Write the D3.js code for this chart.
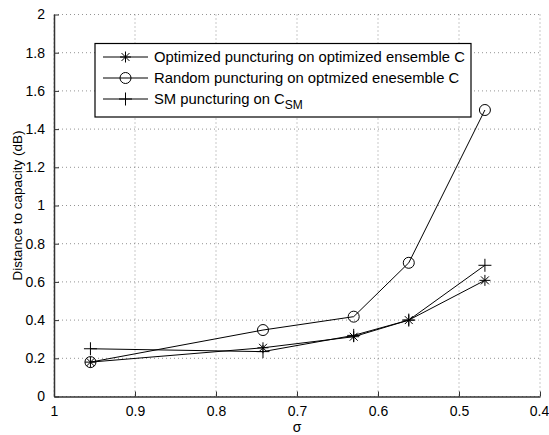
<!DOCTYPE html>
<html><head><meta charset="utf-8">
<script src="https://cdn.jsdelivr.net/npm/d3@7"></script>
<style>body{margin:0;background:#fff}svg{display:block}text{font-family:"Liberation Sans",Arial,sans-serif}</style>
</head><body><svg id="c" width="549" height="435"></svg>
<script>
const sigma = [0.955, 0.742, 0.63, 0.562, 0.468];
const optimized = [0.18, 0.255, 0.313, 0.40, 0.608];
const random = [0.18, 0.348, 0.418, 0.70, 1.50];
const smPunct = [0.25, 0.235, 0.32, 0.40, 0.687];
const xTicks = [1, 0.9, 0.8, 0.7, 0.6, 0.5, 0.4];
const yTicks = [0, 0.2, 0.4, 0.6, 0.8, 1, 1.2, 1.4, 1.6, 1.8, 2];
const legendLabels = ["Optimized puncturing on optimized ensemble C", "Random puncturing on optmized enesemble C", "SM puncturing on C"];

const svg = d3.select("#c");
const L = 54, R = 540, T = 14.5, B = 396.5;
const x = d3.scaleLinear().domain([1, 0.4]).range([L, R]);
const y = d3.scaleLinear().domain([0, 2]).range([B, T]);

// grid
const g = svg.append("g");
g.selectAll(".gx").data(xTicks).enter().append("line")
  .attr("x1", d => x(d)).attr("x2", d => x(d)).attr("y1", T).attr("y2", B)
  .attr("stroke", "#666").attr("stroke-width", 0.7).attr("stroke-dasharray", "1,3");
g.selectAll(".gy").data(yTicks).enter().append("line")
  .attr("x1", L).attr("x2", R).attr("y1", d => y(d)).attr("y2", d => y(d))
  .attr("stroke", "#666").attr("stroke-width", 0.7).attr("stroke-dasharray", "1,3");

// axes
const fmt = d => d3.format("")(+d.toFixed(1));
const xa = svg.append("g").attr("transform", `translate(0,${B})`)
  .call(d3.axisBottom(x).tickValues(xTicks).tickSizeInner(-5).tickSizeOuter(0).tickPadding(10).tickFormat(fmt));
const ya = svg.append("g").attr("transform", `translate(${L},0)`)
  .call(d3.axisLeft(y).tickValues(yTicks).tickSizeInner(-5).tickSizeOuter(0).tickPadding(8).tickFormat(fmt));
[xa, ya].forEach(a => {
  a.attr("font-size", 14).attr("font-family", "Liberation Sans, Arial, sans-serif");
  a.select(".domain").attr("stroke", "#333").attr("stroke-width", 1.5);
  a.selectAll(".tick line").attr("stroke", "#333");
  a.selectAll("text").attr("font-size", 14).attr("fill", "#000");
});
ya.selectAll("text").attr("x", -9);
xa.selectAll(".tick").filter(d => d === 0.4).select("text").attr("dx", -1);

svg.append("text").attr("x", (L + R) / 2).attr("y", 432).attr("text-anchor", "middle")
  .attr("font-size", 14).text("σ");
svg.append("text").attr("transform", `translate(22,${(T + B) / 2}) rotate(-90)`).attr("text-anchor", "middle")
  .attr("font-size", 13.5).text("Distance to capacity (dB)");

// markers
function star(sel, cx, cy, s) {
  const gg = sel.append("g").attr("transform", `translate(${cx},${cy})`).attr("stroke", "#000").attr("stroke-width", 1);
  gg.append("line").attr("x1", -s).attr("x2", s).attr("y1", 0).attr("y2", 0);
  gg.append("line").attr("x1", 0).attr("x2", 0).attr("y1", -s).attr("y2", s);
  const d = s * 0.72;
  gg.append("line").attr("x1", -d).attr("x2", d).attr("y1", -d).attr("y2", d);
  gg.append("line").attr("x1", -d).attr("x2", d).attr("y1", d).attr("y2", -d);
}
function plus(sel, cx, cy, s) {
  const gg = sel.append("g").attr("transform", `translate(${cx},${cy})`).attr("stroke", "#000").attr("stroke-width", 1);
  gg.append("line").attr("x1", -s).attr("x2", s).attr("y1", 0).attr("y2", 0);
  gg.append("line").attr("x1", 0).attr("x2", 0).attr("y1", -s).attr("y2", s);
}
function circ(sel, cx, cy, r) {
  sel.append("circle").attr("cx", cx).attr("cy", cy).attr("r", r).attr("fill", "none").attr("stroke", "#000").attr("stroke-width", 1);
}

const series = [
  {vals: optimized, m: (s, a, b) => star(s, a, b, 5.5)},
  {vals: random, m: (s, a, b) => circ(s, a, b, 5.5)},
  {vals: smPunct, m: (s, a, b) => plus(s, a, b, 6.5)}
];
const line = d3.line().x(d => x(d[0])).y(d => y(d[1]));
series.forEach(se => {
  const pts = sigma.map((s, i) => [s, se.vals[i]]);
  svg.append("path").attr("d", line(pts)).attr("fill", "none").attr("stroke", "#000").attr("stroke-width", 1);
  const mg = svg.append("g");
  pts.forEach(p => se.m(mg, x(p[0]), y(p[1])));
});

// legend
const lg = svg.append("g");
lg.append("rect").attr("x", 95).attr("y", 43.5).attr("width", 376).attr("height", 73.5)
  .attr("fill", "#fff").attr("stroke", "#000").attr("stroke-width", 1.2);
const rowsY = [57, 78, 99];
series.forEach((se, i) => {
  lg.append("line").attr("x1", 103).attr("x2", 148).attr("y1", rowsY[i]).attr("y2", rowsY[i]).attr("stroke", "#000");
  se.m(lg, 125.5, rowsY[i]);
  const t = lg.append("text").attr("x", 154).attr("y", rowsY[i] + 5).attr("font-size", 14.8).text(legendLabels[i]);
  if (i === 2) t.append("tspan").attr("dy", 5).attr("font-size", 12).text("SM");
});
</script></body></html>
